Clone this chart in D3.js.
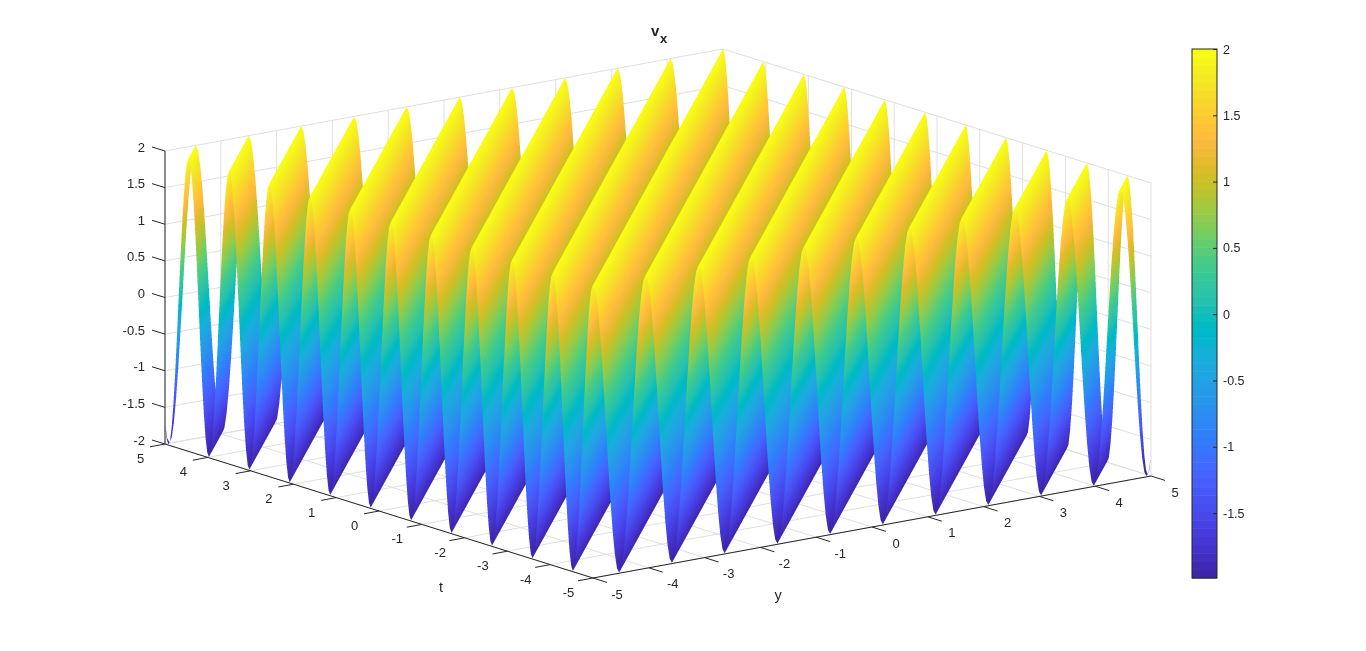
<!DOCTYPE html>
<html>
<head>
<meta charset="utf-8">
<script src="https://cdn.jsdelivr.net/npm/d3@7"></script>
<style>
    body { margin: 0; background: #fff; }
    #container { position: relative; width: 1366px; height: 651px; overflow: hidden; }
    #container svg, #container canvas { position: absolute; left: 0; top: 0; }
    text { font-family: "Liberation Sans", Arial, sans-serif; fill: #262626; }
</style>
</head>
<body>
<div id="container"></div>
<script>
// Values
var yTicks = [-5, -4, -3, -2, -1, 0, 1, 2, 3, 4, 5];
var tTicks = [-5, -4, -3, -2, -1, 0, 1, 2, 3, 4, 5];
var zTicks = [-2, -1.5, -1, -0.5, 0, 0.5, 1, 1.5, 2];
var colorbarTicks = [-1.5, -1, -0.5, 0, 0.5, 1, 1.5, 2];

// y - t of every crest of the surface (the outer two lie just past the corners)
var crestOffsets = [-10.39, -9.45, -8.5, -7.56, -6.61, -5.67, -4.72, -3.78, -2.83, -1.89, -0.94, 0,
    0.94, 1.89, 2.83, 3.78, 4.72, 5.67, 6.61, 7.56, 8.5, 9.45, 10.39];

// height across one ridge, crest to crest
var ridgeProfile = [2, 1.93, 1.73, 1.41, 1, 0.52, 0, -0.52, -1, -1.41, -1.73, -1.93, -1.99,
    -1.93, -1.73, -1.41, -1, -0.52, 0, 0.52, 1, 1.41, 1.73, 1.93, 2];

// parula, 64 levels
var parula = ['#3e26a8', '#402ab4', '#422ec0', '#4332cb', '#4537d5', '#463cde', '#4741e5', '#4847eb',
    '#484df0', '#4852f4', '#4758f8', '#465efb', '#4563fd', '#4269fe', '#3e6fff', '#3875fe',
    '#327cfc', '#2f81fa', '#2e87f7', '#2d8cf3', '#2b91ef', '#2797eb', '#259be8', '#23a0e5',
    '#20a5e3', '#1ca9df', '#18addb', '#12b1d6', '#08b5d0', '#01b8ca', '#02bac3', '#0bbdbc',
    '#19bfb6', '#24c1ae', '#2cc4a7', '#31c69f', '#37c897', '#3fca8e', '#4acb84', '#57cc7a',
    '#64cd6f', '#72cd64', '#81cc59', '#8fcb4e', '#9dc943', '#abc739', '#b9c431', '#c5c22a',
    '#d1bf27', '#dcbd29', '#e6bb2d', '#f0ba36', '#f8ba3d', '#febe3c', '#fec338', '#fec832',
    '#fccf30', '#fad62d', '#f7dc2a', '#f5e327', '#f5e924', '#f6ef20', '#f7f51b', '#f9fb15'];

// Basic parameters
var WIDTH = 1366,
    HEIGHT = 651,
    SS = 4;

var gridColor = '#dfdfdf',
    axisColor = '#262626';

// Scales: each data axis maps to pixels along its own screen direction
var yX = d3.scaleLinear().domain([-5, 5]).range([0, 558]),
    yY = d3.scaleLinear().domain([-5, 5]).range([0, -102]),
    tX = d3.scaleLinear().domain([-5, 5]).range([0, -428]),
    tY = d3.scaleLinear().domain([-5, 5]).range([0, -134]),
    zY = d3.scaleLinear().domain([-2, 2]).range([0, -293]);

var project = function(y, t, z) {
    return [593 + yX(y) + tX(t), 578 + yY(y) + tY(t) + zY(z)];
};

var zMin = d3.min(ridgeProfile),
    zMax = d3.max(ridgeProfile);

var colorIndex = d3.scaleQuantize().domain([zMin, zMax]).range(d3.range(parula.length));
var parulaRgb = parula.map(function(c) { return d3.rgb(c); });

var container = d3.select('#container');

var makeSvg = function() {
    return container.append('svg')
        .attr('width', WIDTH)
        .attr('height', HEIGHT);
};

// Back layer: grid on the floor and the two walls
var back = makeSvg();

var gridLine = function(a, b) {
    back.append('line')
        .attr('x1', a[0]).attr('y1', a[1])
        .attr('x2', b[0]).attr('y2', b[1])
        .attr('stroke', gridColor)
        .attr('stroke-width', 1);
};

yTicks.forEach(function(y) {
    gridLine(project(y, -5, -2), project(y, 5, -2));
    gridLine(project(y, 5, -2), project(y, 5, 2));
});
tTicks.forEach(function(t) {
    gridLine(project(-5, t, -2), project(5, t, -2));
    gridLine(project(5, t, -2), project(5, t, 2));
});
zTicks.forEach(function(z) {
    gridLine(project(-5, 5, z), project(5, 5, z));
    gridLine(project(5, 5, z), project(5, -5, z));
});

// Surface layer, drawn oversized with a depth buffer and then scaled down
var bigW = WIDTH * SS,
    bigH = HEIGHT * SS;

var big = document.createElement('canvas');
big.width = bigW;
big.height = bigH;
var bigCtx = big.getContext('2d');
var image = bigCtx.createImageData(bigW, bigH);
var depthBuffer = new Float32Array(bigW * bigH).fill(Infinity);

var vertex = function(y, t, z) {
    var p = project(y, t, z);
    // y + t grows going away from the viewer along every line of sight
    return { x: p[0] * SS, y: p[1] * SS, depth: y + t, z: z };
};

var fillTriangle = function(a, b, c) {
    var area = (b.x - a.x) * (c.y - a.y) - (b.y - a.y) * (c.x - a.x);
    if (Math.abs(area) < 1e-6) return;

    var y0 = Math.max(0, Math.floor(Math.min(a.y, b.y, c.y))),
        y1 = Math.min(bigH - 1, Math.ceil(Math.max(a.y, b.y, c.y)));
    var edges = [[a, b], [b, c], [c, a]];

    for (var py = y0; py <= y1; py++) {
        var sy = py + 0.5,
            left = Infinity,
            right = -Infinity;

        // where this row crosses the triangle
        edges.forEach(function(e) {
            var p = e[0], q = e[1];
            if ((p.y <= sy && q.y >= sy) || (q.y <= sy && p.y >= sy)) {
                var cross = p.y === q.y ? p.x : p.x + (q.x - p.x) * (sy - p.y) / (q.y - p.y);
                left = Math.min(left, cross);
                right = Math.max(right, cross);
            }
        });
        if (left > right) continue;

        var x0 = Math.max(0, Math.floor(left) - 1),
            x1 = Math.min(bigW - 1, Math.ceil(right) + 1);

        for (var px = x0; px <= x1; px++) {
            var sx = px + 0.5;
            var la = ((b.x - sx) * (c.y - sy) - (b.y - sy) * (c.x - sx)) / area,
                lb = ((c.x - sx) * (a.y - sy) - (c.y - sy) * (a.x - sx)) / area,
                lc = 1 - la - lb;
            if (la < -1e-6 || lb < -1e-6 || lc < -1e-6) continue;

            var i = py * bigW + px;
            var depth = la * a.depth + lb * b.depth + lc * c.depth;
            if (depth >= depthBuffer[i]) continue;
            depthBuffer[i] = depth;

            var rgb = parulaRgb[colorIndex(la * a.z + lb * b.z + lc * c.z)];
            image.data[i * 4] = rgb.r;
            image.data[i * 4 + 1] = rgb.g;
            image.data[i * 4 + 2] = rgb.b;
            image.data[i * 4 + 3] = 255;
        }
    }
};

// The two ends of the line y - t = d inside the square
var lineEnds = function(d, z) {
    if (d >= 0) return [vertex(-5 + d, -5, z), vertex(5, 5 - d, z)];
    return [vertex(-5, -5 - d, z), vertex(5 + d, 5, z)];
};

var surfaceLimit = 10;

var drawStrip = function(d1, z1, d2, z2) {
    if (d2 <= -surfaceLimit || d1 >= surfaceLimit) return;
    // the ridges past the two corners are cut at the corner
    if (d1 < -surfaceLimit) {
        z1 = z1 + (z2 - z1) * (-surfaceLimit - d1) / (d2 - d1);
        d1 = -surfaceLimit;
    }
    if (d2 > surfaceLimit) {
        z2 = z1 + (z2 - z1) * (surfaceLimit - d1) / (d2 - d1);
        d2 = surfaceLimit;
    }
    var p = lineEnds(d1, z1),
        q = lineEnds(d2, z2);
    fillTriangle(p[0], p[1], q[1]);
    fillTriangle(p[0], q[1], q[0]);
};

d3.pairs(crestOffsets).forEach(function(pair) {
    var steps = ridgeProfile.length - 1;
    d3.pairs(ridgeProfile).forEach(function(h, k) {
        var d1 = pair[0] + (pair[1] - pair[0]) * k / steps,
            d2 = pair[0] + (pair[1] - pair[0]) * (k + 1) / steps;
        drawStrip(d1, h[0], d2, h[1]);
    });
});

bigCtx.putImageData(image, 0, 0);

// halve twice so the scaling stays a clean box average
var mid = document.createElement('canvas');
mid.width = WIDTH * 2;
mid.height = HEIGHT * 2;
mid.getContext('2d').drawImage(big, 0, 0, mid.width, mid.height);

var canvas = container.append('canvas')
    .attr('width', WIDTH)
    .attr('height', HEIGHT);
canvas.node().getContext('2d').drawImage(mid, 0, 0, WIDTH, HEIGHT);

// Front layer: axes, labels, colorbar
var svg = makeSvg();

var axisLine = function(a, b) {
    svg.append('line')
        .attr('x1', a[0]).attr('y1', a[1])
        .attr('x2', b[0]).attr('y2', b[1])
        .attr('stroke', axisColor)
        .attr('stroke-width', 1);
};

axisLine(project(-5, -5, -2), project(5, -5, -2));
axisLine(project(-5, -5, -2), project(-5, 5, -2));
axisLine(project(-5, 5, -2), project(-5, 5, 2));

var tickLabel = function(x, y, s, anchor, size) {
    svg.append('text')
        .attr('x', x)
        .attr('y', y)
        .attr('text-anchor', anchor || 'middle')
        .attr('dominant-baseline', 'central')
        .attr('font-size', size || 13)
        .text(s);
};

// each tick points along the other floor axis
yTicks.forEach(function(y) {
    var p = project(y, -5, -2);
    axisLine(p, [p[0] + 14, p[1] + 4.4]);
    tickLabel(p[0] + 24, p[1] + 16, y);
});
tTicks.forEach(function(t) {
    var p = project(-5, t, -2);
    axisLine(p, [p[0] - 15, p[1] + 2.8]);
    tickLabel(p[0] - 24.5, p[1] + 14.5, t);
});
zTicks.forEach(function(z) {
    var p = project(-5, 5, z);
    axisLine(p, [p[0] - 13, p[1] - 4]);
    tickLabel(p[0] - 20, p[1] - 4, z, 'end');
});

tickLabel(441, 587, 't', 'middle', 14.5);
tickLabel(778, 595, 'y', 'middle', 14.5);

// title v with subscript x
svg.append('text')
    .attr('x', 651)
    .attr('y', 36)
    .attr('font-size', 15)
    .attr('font-weight', 'bold')
    .text('v');
svg.append('text')
    .attr('x', 660)
    .attr('y', 43)
    .attr('font-size', 13)
    .attr('font-weight', 'bold')
    .text('x');

// Colorbar
var cbY = d3.scaleLinear().domain([zMin, zMax]).range([578, 49]);
var cbH = (578 - 49) / parula.length;

svg.selectAll('.cb-cell')
    .data(parula)
    .enter()
    .append('rect')
    .attr('class', 'cb-cell')
    .attr('x', 1192)
    .attr('y', function(d, i) { return 578 - (i + 1) * cbH; })
    .attr('width', 25)
    .attr('height', cbH + 0.5)
    .attr('fill', function(d) { return d; });

svg.append('rect')
    .attr('x', 1192)
    .attr('y', 49)
    .attr('width', 25)
    .attr('height', 529)
    .attr('fill', 'none')
    .attr('stroke', axisColor)
    .attr('stroke-width', 1);

var cbAxis = d3.axisRight(cbY)
    .tickValues(colorbarTicks)
    .tickSize(-4)
    .tickPadding(6)
    .tickFormat(function(d) { return d; });

var cbGroup = svg.append('g')
    .attr('transform', 'translate(1217,0)')
    .call(cbAxis);

cbGroup.select('.domain').remove();
cbGroup.selectAll('line').attr('stroke', axisColor);
cbGroup.selectAll('text')
    .attr('font-family', '"Liberation Sans", Arial, sans-serif')
    .attr('font-size', 12.5);
</script>
</body>
</html>
